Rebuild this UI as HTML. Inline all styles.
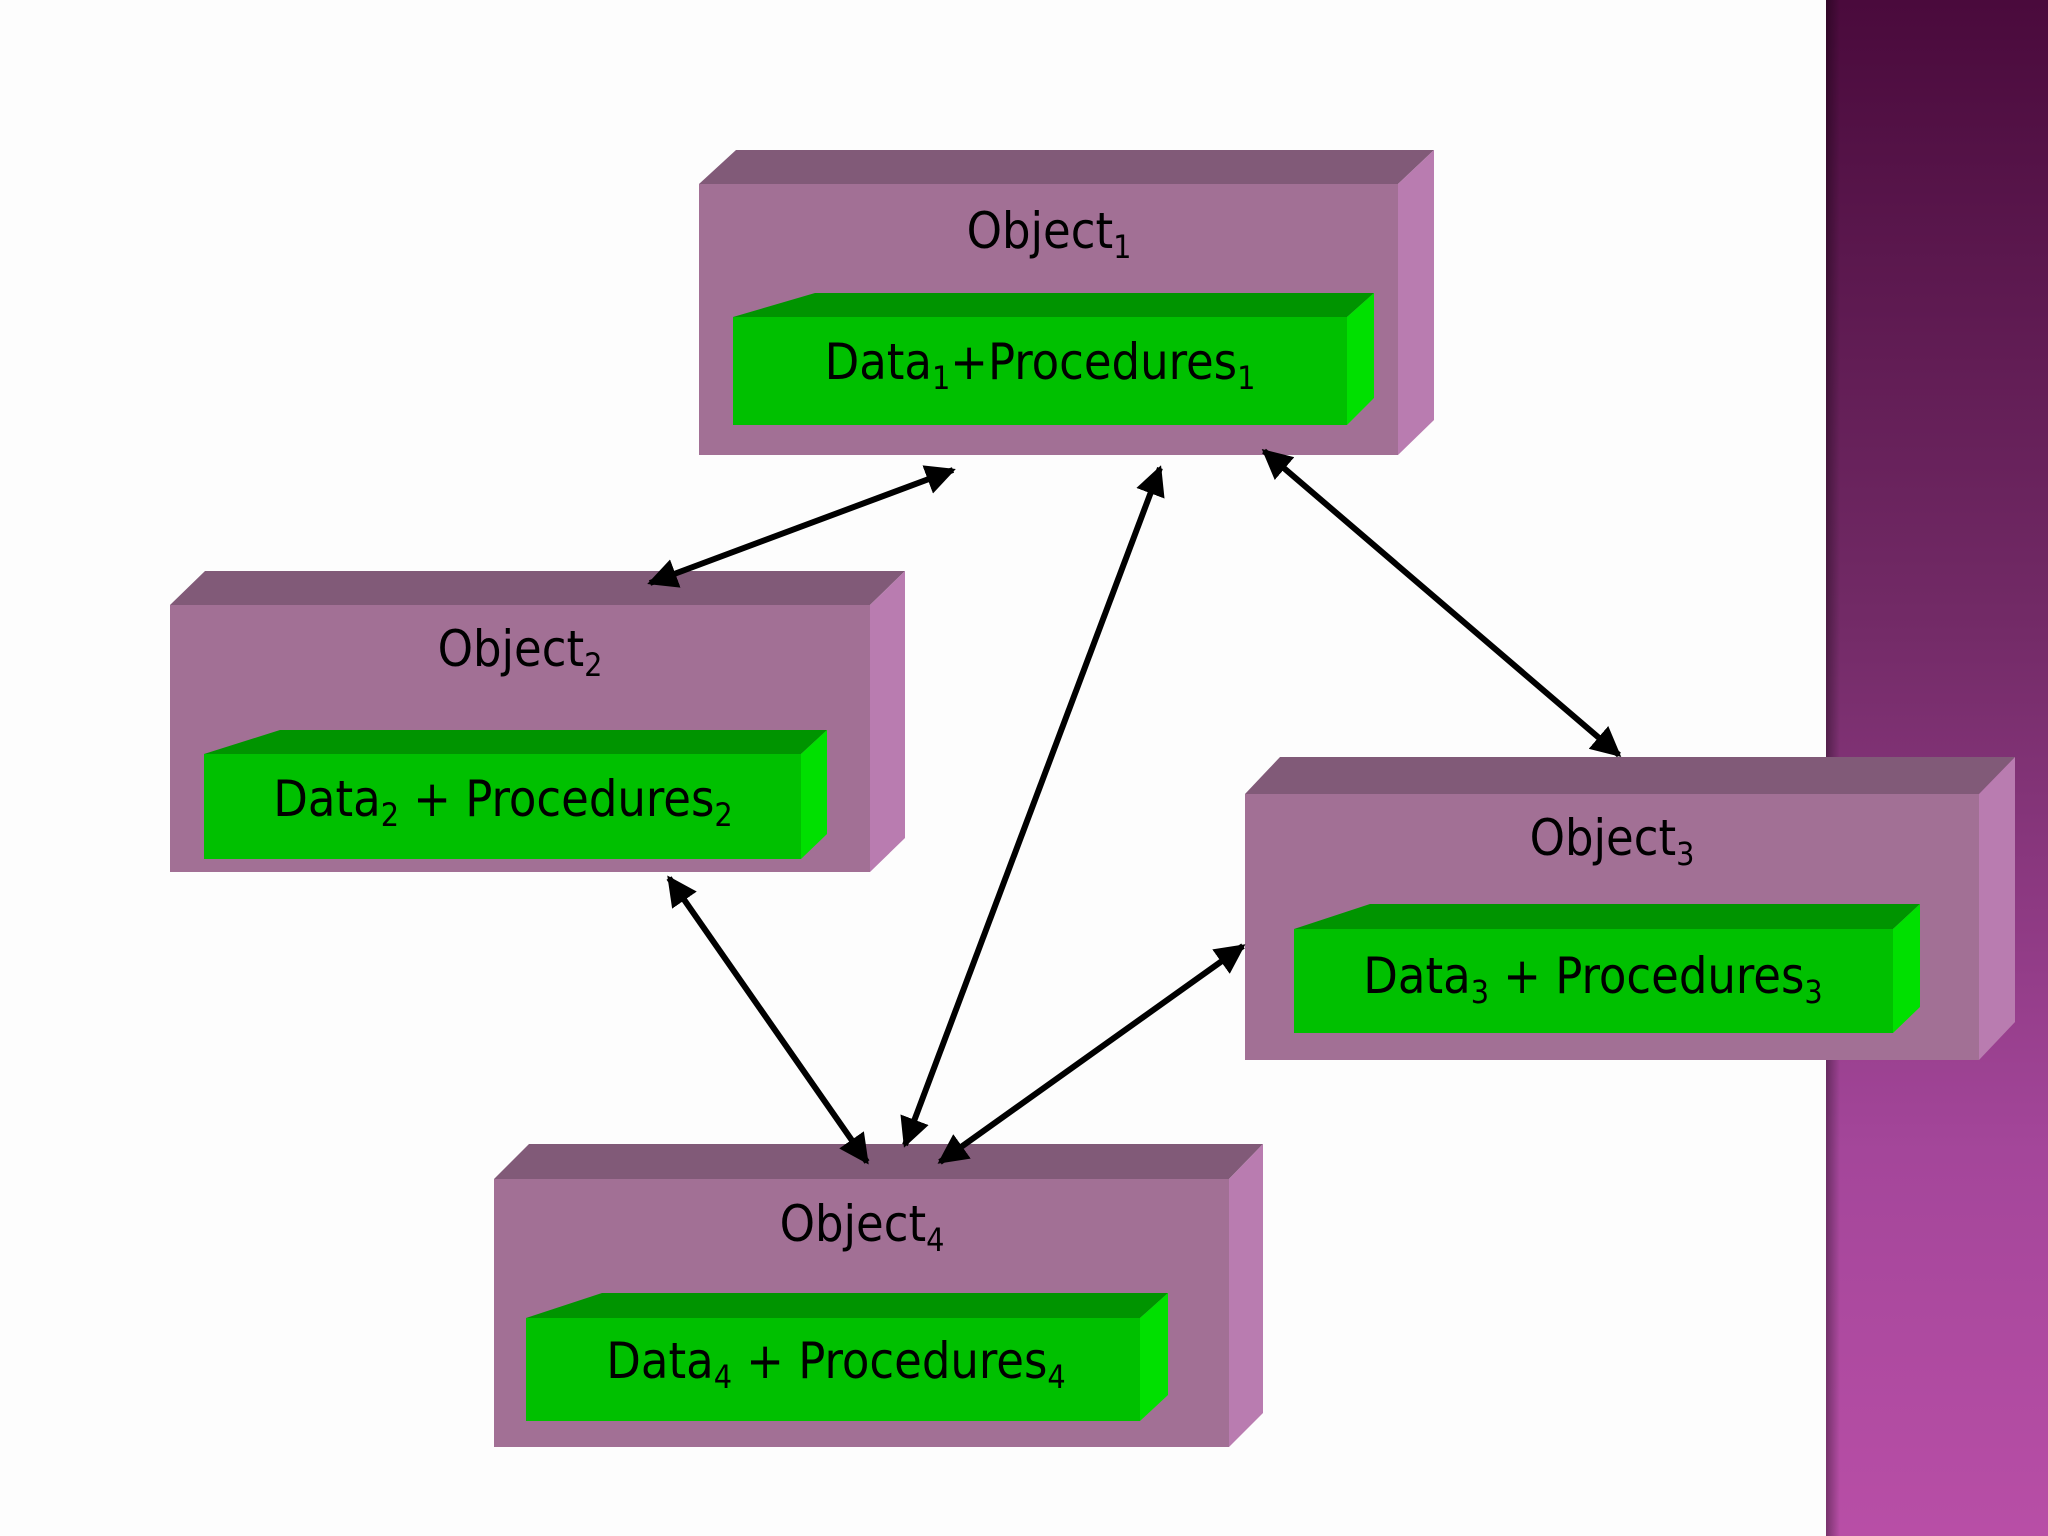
<!DOCTYPE html>
<html><head><meta charset="utf-8"><style>
html,body{margin:0;padding:0;width:2048px;height:1536px;overflow:hidden;background:#fdfdfd}
svg{display:block}
text{font-family:"DejaVu Sans Condensed","Liberation Sans",sans-serif;fill:#000;text-anchor:middle}
.o{font-size:50px}.d{font-size:50px}
</style></head><body>
<svg width="2048" height="1536" viewBox="0 0 2048 1536" xmlns="http://www.w3.org/2000/svg">
<defs>
<linearGradient id="side" x1="0" y1="0" x2="0" y2="1">
<stop offset="0" stop-color="#4a0a3c"/><stop offset="0.4" stop-color="#722a66"/><stop offset="0.75" stop-color="#a4469a"/><stop offset="1" stop-color="#b84ea6"/>
</linearGradient>
<linearGradient id="edge" x1="0" y1="0" x2="1" y2="0">
<stop offset="0" stop-color="#000" stop-opacity="0.35"/><stop offset="1" stop-color="#000" stop-opacity="0"/>
</linearGradient>
<marker id="ah" viewBox="0 0 10 10" refX="9" refY="5" markerWidth="5" markerHeight="5" orient="auto-start-reverse">
<path d="M0,0 L10,5 L0,10 z" fill="#000"/></marker>
</defs>
<rect x="1826" y="0" width="222" height="1536" fill="url(#side)"/>
<rect x="1826" y="0" width="14" height="1536" fill="url(#edge)"/>

<!-- Object boxes -->
<g id="b1">
<polygon points="699,184 736,150 1434,150 1398,184" fill="#815a78"/>
<polygon points="1398,184 1434,150 1434,420 1398,455" fill="#b97cb0"/>
<rect x="699" y="184" width="699" height="271" fill="#a27095"/>
<polygon points="733,317 815,293 1374,293 1347,317" fill="#009400"/>
<polygon points="1347,317 1374,293 1374,398 1347,425" fill="#00e000"/>
<rect x="733" y="317" width="614" height="108" fill="#00c000"/>
</g>
<g>
<polygon points="170,605 205,571 905,571 870,605" fill="#815a78"/>
<polygon points="870,605 905,571 905,838 870,872" fill="#b97cb0"/>
<rect x="170" y="605" width="700" height="267" fill="#a27095"/>
<polygon points="204,754 280,730 827,730 801,754" fill="#009400"/>
<polygon points="801,754 827,730 827,834 801,859" fill="#00e000"/>
<rect x="204" y="754" width="597" height="105" fill="#00c000"/>
</g>
<g>
<polygon points="1245,794 1280,757 2015,757 1979,794" fill="#815a78"/>
<polygon points="1979,794 2015,757 2015,1022 1979,1060" fill="#b97cb0"/>
<rect x="1245" y="794" width="734" height="266" fill="#a27095"/>
<polygon points="1294,929 1370,904 1920,904 1893,929" fill="#009400"/>
<polygon points="1893,929 1920,904 1920,1007 1893,1033" fill="#00e000"/>
<rect x="1294" y="929" width="599" height="104" fill="#00c000"/>
</g>
<g>
<polygon points="494,1179 529,1144 1263,1144 1229,1179" fill="#815a78"/>
<polygon points="1229,1179 1263,1144 1263,1413 1229,1447" fill="#b97cb0"/>
<rect x="494" y="1179" width="735" height="268" fill="#a27095"/>
<polygon points="526,1318 602,1293 1168,1293 1140,1318" fill="#009400"/>
<polygon points="1140,1318 1168,1293 1168,1395 1140,1421" fill="#00e000"/>
<rect x="526" y="1318" width="614" height="103" fill="#00c000"/>
</g>

<!-- arrows -->
<g stroke="#000" stroke-width="6" fill="none" marker-start="url(#ah)" marker-end="url(#ah)">
<line x1="953" y1="470" x2="650" y2="583"/>
<line x1="1160" y1="468" x2="905" y2="1145"/>
<line x1="1264" y1="451" x2="1619" y2="755"/>
<line x1="669" y1="878" x2="867" y2="1162"/>
<line x1="1243" y1="946" x2="940" y2="1162"/>
</g>

<!-- labels -->
<text class="o" x="1049" y="248">Object<tspan font-size="32" dy="10">1</tspan></text>
<text class="d" x="1040" y="379">Data<tspan font-size="32" dy="10">1</tspan><tspan dy="-10">+Procedures</tspan><tspan font-size="32" dy="10">1</tspan></text>
<text class="o" x="520" y="666">Object<tspan font-size="32" dy="10">2</tspan></text>
<text class="d" x="503" y="816">Data<tspan font-size="32" dy="10">2</tspan><tspan dy="-10"> + Procedures</tspan><tspan font-size="32" dy="10">2</tspan></text>
<text class="o" x="1612" y="855">Object<tspan font-size="32" dy="10">3</tspan></text>
<text class="d" x="1593" y="993">Data<tspan font-size="32" dy="10">3</tspan><tspan dy="-10"> + Procedures</tspan><tspan font-size="32" dy="10">3</tspan></text>
<text class="o" x="862" y="1241">Object<tspan font-size="32" dy="10">4</tspan></text>
<text class="d" x="836" y="1378">Data<tspan font-size="32" dy="10">4</tspan><tspan dy="-10"> + Procedures</tspan><tspan font-size="32" dy="10">4</tspan></text>
</svg>
</body></html>
